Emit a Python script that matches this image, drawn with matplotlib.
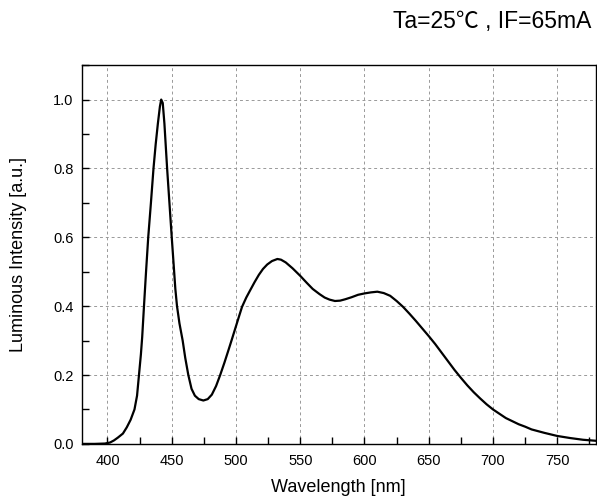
import numpy as np
import matplotlib.pyplot as plt
from matplotlib.ticker import MultipleLocator

plt.rcParams['font.family'] = ['Liberation Sans', 'Noto Sans CJK SC', 'DejaVu Sans']

# spectrum
wavelength = [380, 390, 398, 402, 405, 408, 412, 415, 418, 421, 423, 424.5, 426, 427,
              428.4, 430, 431.7, 433.8, 435.8, 437.5, 439.2, 440.8, 441.8, 443, 444.3,
              446.4, 448.2, 450, 451.5, 452.8, 454.1, 456, 458.5, 460.5, 462.9, 465.4,
              468, 471, 474.6, 478, 481.2, 484.5, 487.7, 491, 494.2, 497, 500, 502.5,
              504.7, 508, 511.3, 514.5, 517.8, 521, 524.3, 528, 532.2, 535, 538.7, 544,
              550, 555, 559.7, 565, 569, 572.8, 577, 581, 585, 590, 595, 600, 605, 610,
              615, 620, 625, 630, 635, 640, 645, 650, 655, 660, 665, 670, 675, 680, 685,
              690, 695, 700, 710, 720, 725, 730, 740, 750, 760, 770, 780]
intensity = [0.0, 0.0, 0.001, 0.004, 0.01, 0.018, 0.03, 0.048, 0.07, 0.1, 0.14, 0.2, 0.26, 0.31,
             0.4, 0.5, 0.6, 0.7, 0.8, 0.87, 0.93, 0.98, 1.0, 0.99, 0.93,
             0.8, 0.7, 0.6, 0.52, 0.45, 0.4, 0.35, 0.3, 0.25, 0.2, 0.16,
             0.14, 0.13, 0.126, 0.13, 0.143, 0.168, 0.2, 0.236, 0.273, 0.306, 0.342, 0.372,
             0.398, 0.425, 0.448, 0.47, 0.491, 0.508, 0.521, 0.531, 0.537, 0.535, 0.527, 0.51,
             0.488, 0.468, 0.45, 0.435, 0.425, 0.419, 0.415, 0.416, 0.42, 0.426, 0.433, 0.437, 0.44, 0.442,
             0.438, 0.43, 0.415, 0.398, 0.378, 0.357, 0.335, 0.313, 0.29, 0.265, 0.24, 0.215, 0.192, 0.17, 0.15,
             0.132, 0.115, 0.1, 0.075, 0.057, 0.05, 0.042, 0.032, 0.023, 0.017, 0.012, 0.009]

fig = plt.figure(figsize=(5.97, 5.01), dpi=100)
ax = fig.add_axes([0.137, 0.114, 0.861, 0.756])

ax.plot(wavelength, intensity, color='black', linewidth=1.6)

ax.set_xlim(380, 780)
ax.set_ylim(0, 1.1)
ax.xaxis.set_major_locator(MultipleLocator(50))
ax.xaxis.set_minor_locator(MultipleLocator(25))
ax.yaxis.set_major_locator(MultipleLocator(0.2))
ax.yaxis.set_minor_locator(MultipleLocator(0.1))
ax.yaxis.set_major_formatter(plt.FuncFormatter(lambda v, p: f'{v:.1f}'))

ax.tick_params(which='both', direction='in', length=5, width=1, labelsize=10.5)
ax.tick_params(axis='x', pad=7)
ax.tick_params(axis='y', pad=6)
ax.grid(True, which='major', color='#999999', linestyle=(0, (3, 3)), linewidth=0.7)
for s in ax.spines.values():
    s.set_linewidth(1.0)

ax.set_xlabel('Wavelength [nm]', fontsize=13)
ax.set_ylabel('Luminous Intensity [a.u.]', fontsize=13)
ax.xaxis.set_label_coords(0.5, -0.092)
ax.yaxis.set_label_coords(-0.107, 0.5)

fig.text(0.99, 0.944, 'Ta=25℃ , IF=65mA', ha='right', va='baseline', fontsize=16.5)

fig.savefig('out.png', dpi=100)
